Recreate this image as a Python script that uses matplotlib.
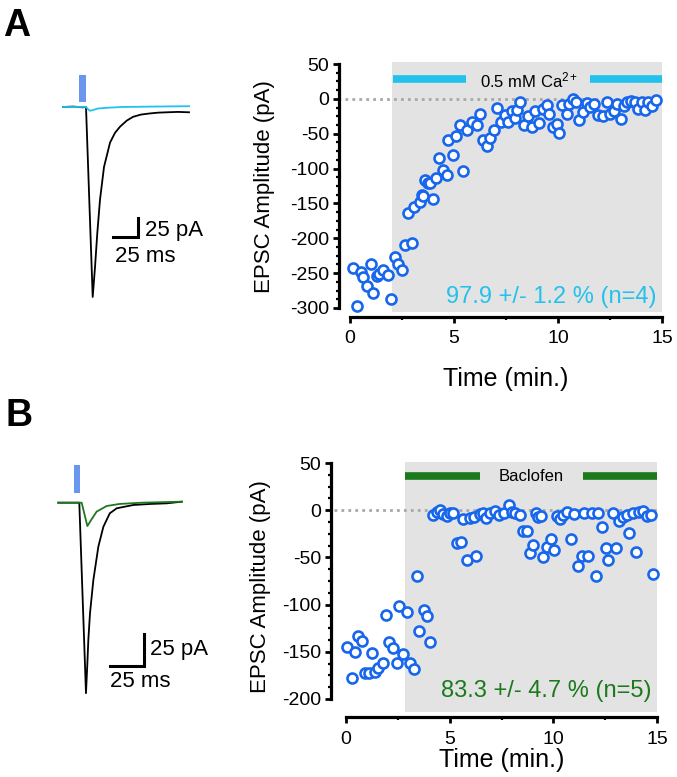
import matplotlib
matplotlib.use("Agg")
import numpy as np
import matplotlib.pyplot as plt
from matplotlib.ticker import MultipleLocator, FixedLocator

plt.rcParams['font.family'] = ['Liberation Sans', 'DejaVu Sans']
plt.rcParams['mathtext.fontset'] = 'custom'
plt.rcParams['mathtext.rm'] = 'Liberation Sans'
plt.rcParams['mathtext.it'] = 'Liberation Sans'
plt.rcParams['axes.unicode_minus'] = False

W, H = 677, 777

# ---- panel A: 0.5 mM Ca2+ ----
time_a = [0.16, 0.32, 0.51, 0.64, 0.80, 1.00, 1.12, 1.31, 1.41, 1.60, 1.81, 1.96,
          2.16, 2.32, 2.48, 2.64, 2.80, 2.97, 3.10, 3.37, 3.45, 3.50, 3.60, 3.77,
          3.85, 3.98, 4.13, 4.30, 4.49, 4.65, 4.73, 4.94, 5.10, 5.29, 5.45, 5.64,
          5.85, 6.09, 6.25, 6.41, 6.60, 6.73, 6.94, 7.08, 7.24, 7.45, 7.58, 7.77,
          7.93, 8.05, 8.17, 8.37, 8.57, 8.73, 8.89, 9.10, 9.30, 9.46, 9.59, 9.78,
          9.94, 10.07, 10.18, 10.42, 10.55, 10.70, 10.87, 11.03, 11.19, 11.38,
          11.54, 11.73, 11.94, 12.15, 12.34, 12.50, 12.69, 12.85, 13.01, 13.17,
          13.33, 13.50, 13.70, 13.86, 14.02, 14.18, 14.34, 14.50, 14.71]
epsc_a = [-243, -297, -249, -256, -269, -237, -278, -254, -252, -245, -253, -287,
          -227, -237, -245, -210, -164, -207, -155, -148, -138, -140, -116, -121,
          -121, -143, -114, -85, -102, -109, -59, -80, -54, -37, -104, -44,
          -33, -37, -21, -59, -67, -56, -45, -13, -33, -23, -33, -18,
          -28, -16, -4, -37, -25, -40, -17, -34, -14, -9, -22, -41,
          -36, -49, -9, -22, -8, 0, -4, -30, -19, -6,
          -11, -8, -23, -24, -4, -22, -17, -8, -29, -10,
          -4, -3, -4, -14, -4, -16, -4, -10, -2]

# ---- panel B: baclofen ----
time_b = [0.06, 0.27, 0.43, 0.60, 0.76, 0.92, 1.12, 1.24, 1.40, 1.56, 1.77, 1.93,
          2.09, 2.28, 2.45, 2.57, 2.76, 2.93, 3.09, 3.28, 3.41, 3.54, 3.76, 3.92,
          4.05, 4.21, 4.40, 4.55, 4.70, 4.86, 5.03, 5.18, 5.37, 5.55, 5.66, 5.85,
          5.98, 6.15, 6.29, 6.45, 6.60, 6.75, 6.95, 7.19, 7.40, 7.62, 7.88, 8.00,
          8.15, 8.39, 8.56, 8.72, 8.88, 9.00, 9.17, 9.28, 9.39, 9.52, 9.68, 9.87,
          10.03, 10.16, 10.32, 10.45, 10.64, 10.83, 10.99, 11.20, 11.36, 11.47,
          11.68, 11.85, 12.06, 12.17, 12.33, 12.54, 12.65, 12.86, 13.02, 13.19,
          13.38, 13.54, 13.67, 13.83, 13.99, 14.15, 14.34, 14.50, 14.69, 14.82]
epsc_b = [-145, -178, -150, -133, -139, -173, -172, -151, -171, -167, -162, -111,
          -140, -146, -162, -101, -152, -108, -162, -168, -70, -128, -106, -112,
          -140, -5, -2, 0, -4, -6, -3, -3, -35, -34, -9, -53,
          -8, -7, -48, -4, -3, -8, -3, -1, -5, -3, 5, -2,
          -3, -5, -22, -22, -45, -37, -3, -7, -6, -50, -39, -30,
          -42, -6, -9, -5, -2, -31, -4, -59, -48, -3,
          -48, -3, -70, -3, -18, -40, -53, -3, -40, -11,
          -7, -5, -24, -3, -44, -2, -1, -6, -5, -68]

# ---- example traces (ms, pA) ----
trace_a_t = [0, 10, 20, 23, 29.7, 32, 34.3, 37, 41, 47, 52, 57, 63.7, 70, 78, 87, 95, 104, 115, 126]
trace_a_ctrl = [0, 0.5, -0.5, 0, -250, -211, -166, -122, -79, -47, -34, -26, -18, -13, -10, -8.5, -7.5, -7, -6.5, -7]
trace_a_drug_t = [0, 23, 25, 27, 30, 35, 45, 60, 90, 126]
trace_a_drug = [0, 0, -3, -5, -4, -2, -1, 0, 0.5, 1]

trace_b_t = [0, 10, 15.1, 19.9, 20.9, 21.6, 22.8, 25.2, 28.8, 32.4, 37, 42, 54, 66, 78, 88.8]
trace_b_ctrl = [0, 0, 0, -150, -126.5, -108, -87, -61, -34.6, -19, -8.4, -4.4, -1.8, -1, -0.5, 0.8]
trace_b_drug_t = [0, 15, 16.8, 20.9, 24, 27.6, 34.8, 44, 60, 88.8]
trace_b_drug = [0, 0, 0, -18.4, -13, -7, -2.6, -1, 0, 0.8]

BLUE = '#1766ec'
CYAN = '#22c2ec'
GREEN = '#1c7a1c'
STIM = '#6a96f0'
SHADE = '#e3e3e3'

fig = plt.figure(figsize=(W / 100, H / 100), dpi=100)


def px_axes(left, top, right, bottom):
    return fig.add_axes([left / W, 1 - bottom / H, (right - left) / W, (bottom - top) / H])


def scatter_panel(ax, t, v, ylim, yticks, left_off, shade_start, ylabelpad, xlabelpad):
    ax.axvspan(shade_start, 15, color=SHADE, lw=0, zorder=0)
    ax.plot([-0.6, 15], [0, 0], ls=(0, (1, 1.5)), color='#a8a8a8', lw=2,
            clip_on=False, zorder=1)
    ax.plot(t, v, 'o', ms=7.2, mfc='white', mec=BLUE, mew=1.9, clip_on=False, zorder=3)
    ax.set_xlim(0, 15)
    ax.set_ylim(*ylim)
    for s in ['top', 'right']:
        ax.spines[s].set_visible(False)
    ax.spines['left'].set_position(('outward', left_off))
    ax.spines['bottom'].set_position(('outward', 3.5))
    ax.spines['left'].set_bounds(yticks[0], yticks[-1])
    ax.spines['bottom'].set_bounds(0, 15)
    for s in ['left', 'bottom']:
        ax.spines[s].set_linewidth(2.3)
    ax.set_yticks(yticks)
    ax.set_xticks([0, 5, 10, 15])
    ax.yaxis.set_minor_locator(FixedLocator(np.arange(yticks[0], yticks[-1] + 1, 12.5)))
    ax.xaxis.set_minor_locator(MultipleLocator(2.5))
    ax.tick_params(axis='both', which='major', width=2, length=4, labelsize=14)
    ax.tick_params(axis='both', which='minor', width=1.6, length=2.5)
    ax.tick_params(axis='y', pad=3)
    ax.tick_params(axis='x', pad=6)
    ax.set_facecolor('none')
    ax.set_ylabel('EPSC Amplitude (pA)', fontsize=16, labelpad=ylabelpad)
    ax.set_xlabel('Time (min.)', fontsize=18, labelpad=xlabelpad)
    return ax


# panel A scatter
axA = px_axes(350, 62, 662, 311.7)
scatter_panel(axA, time_a, epsc_a, (-305.4, 52.9), [-300, -250, -200, -150, -100, -50, 0, 50],
              8, 2.0, 11, 14)
axA.plot([2.07, 5.58], [28, 28], color=CYAN, lw=5.5, solid_capstyle='butt')
axA.plot([11.54, 15], [28, 28], color=CYAN, lw=5.5, solid_capstyle='butt')
axA.text(8.6, 27, r'0.5 mM Ca$^{2+}$', fontsize=12, ha='center', va='center')
axA.text(14.75, -284, '97.9 +/- 1.2 % (n=4)', color=CYAN, fontsize=17,
         ha='right', va='center')

# panel B scatter
axB = px_axes(346, 461.7, 657, 712)
scatter_panel(axB, time_b, epsc_b, (-213.8, 51.4), [-200, -150, -100, -50, 0, 50],
              11, 2.85, 8, 0)
axB.plot([2.85, 6.46], [36, 36], color=GREEN, lw=5.5, solid_capstyle='butt')
axB.plot([11.43, 15], [36, 36], color=GREEN, lw=5.5, solid_capstyle='butt')
axB.text(8.95, 35.5, 'Baclofen', fontsize=12, ha='center', va='center')
axB.text(14.75, -192, '83.3 +/- 4.7 % (n=5)', color=GREEN, fontsize=17,
         ha='right', va='center')

# panel A trace
trA = px_axes(55, 60, 200, 300)
trA.plot(trace_a_t, trace_a_ctrl, color='black', lw=1.3)
trA.plot(trace_a_drug_t, trace_a_drug, color=CYAN, lw=1.3)
trA.fill_between([16, 23], 6.6, 42, color=STIM, lw=0)
trA.plot([50, 75, 75], [-171, -171, -146], color='black', lw=2.2, solid_joinstyle='miter')
trA.text(82, -162, '25 pA', fontsize=16, ha='left', va='center')
trA.text(52, -197, '25 ms', fontsize=16, ha='left', va='center')
trA.set_xlim(-8, 137)
trA.set_ylim(-254, 61.8)
trA.axis('off')

# panel B trace
trB = px_axes(50, 450, 200, 700)
trB.plot(trace_b_t, trace_b_ctrl, color='black', lw=1.3)
trB.plot(trace_b_drug_t, trace_b_drug, color=GREEN, lw=1.3)
trB.fill_between([11.3, 15.6], 7.9, 29.7, color=STIM, lw=0)
trB.plot([36.9, 61.7, 61.7], [-128.3, -128.3, -103.4], color='black', lw=2.2, solid_joinstyle='miter')
trB.text(66, -116, '25 pA', fontsize=16, ha='left', va='center')
trB.text(37.2, -141, '25 ms', fontsize=16, ha='left', va='center')
trB.set_xlim(-5.97, 101.9)
trB.set_ylim(-155.4, 41.5)
trB.axis('off')

fig.text(3 / W, 1 - 26 / H, 'A', fontsize=27, fontweight='bold', ha='left', va='center')
fig.text(5 / W, 1 - 416 / H, 'B', fontsize=27, fontweight='bold', ha='left', va='center')

fig.savefig('out.png', dpi=100)
